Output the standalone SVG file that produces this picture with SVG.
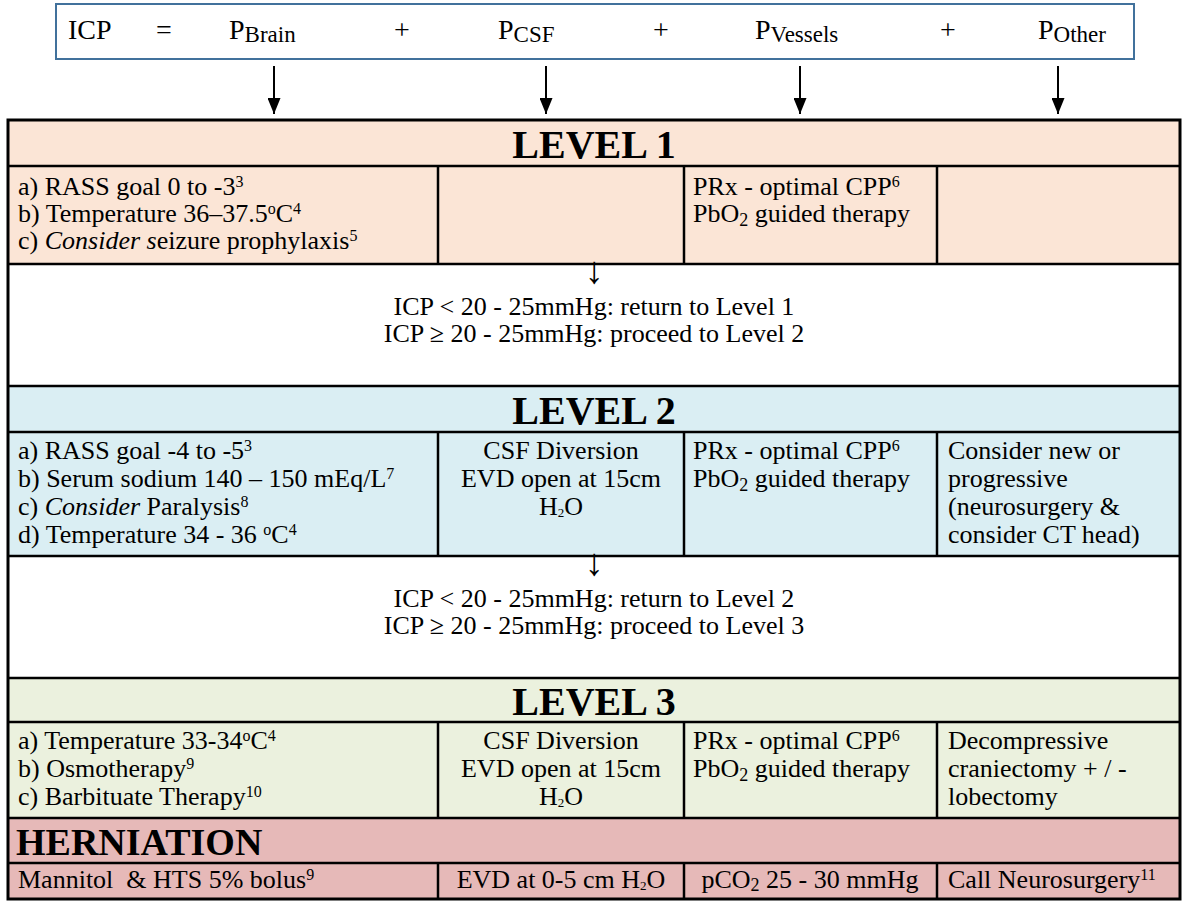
<svg xmlns="http://www.w3.org/2000/svg" width="1184" height="901" viewBox="0 0 1184 901">
<style>
.t{font-family:"Liberation Serif","Times New Roman",serif;font-size:26px;fill:#000}
.c{text-anchor:middle}
.hd{font-weight:bold;font-size:40px}
.hn{font-weight:bold;font-size:38px}
.eq{font-size:28px}
.es{font-size:23px}
.sp{font-size:16px}
.sb{font-size:18px}
.tiny{font-size:13px}
.ar{font-size:38px}
.ln{stroke:#000;stroke-width:2;fill:none}
.it{font-style:italic}
</style>
<defs>
<marker id="ah" markerWidth="16" markerHeight="13" refX="16" refY="6.5" orient="auto" markerUnits="userSpaceOnUse" viewBox="0 0 16 13">
<path d="M0,0 L16,6.5 L0,13 Z" fill="#000"/>
</marker>
</defs>
<rect width="1184" height="901" fill="#fff"/>

<g id="equation">
<rect x="56" y="4" width="1078" height="55" fill="#fff" stroke="#41719C" stroke-width="2"/>
<text class="t eq" x="68" y="39">ICP</text>
<text class="t eq c" x="164" y="39">=</text>
<text class="t eq" x="229" y="39">P<tspan class="es" dy="3">Brain</tspan></text>
<text class="t eq c" x="402" y="39">+</text>
<text class="t eq" x="498" y="39">P<tspan class="es" dy="3">CSF</tspan></text>
<text class="t eq c" x="661" y="39">+</text>
<text class="t eq" x="755" y="39">P<tspan class="es" dy="3">Vessels</tspan></text>
<text class="t eq c" x="948" y="39">+</text>
<text class="t eq" x="1038" y="39">P<tspan class="es" dy="3">Other</tspan></text>
</g>

<g id="connectors">
<line class="ln" x1="274" y1="66" x2="274" y2="114" marker-end="url(#ah)"/>
<line class="ln" x1="546" y1="66" x2="546" y2="114" marker-end="url(#ah)"/>
<line class="ln" x1="800" y1="66" x2="800" y2="114" marker-end="url(#ah)"/>
<line class="ln" x1="1058" y1="66" x2="1058" y2="114" marker-end="url(#ah)"/>
</g>

<g id="level1">
<rect x="8" y="120" width="1172" height="144" fill="#FBE5D6"/>
<text class="t hd c" x="594" y="158">LEVEL 1</text>
<text class="t" x="18" y="195">a) RASS goal 0 to -3<tspan class="sp" baseline-shift="super">3</tspan></text>
<text class="t" x="18" y="222">b) Temperature 36–37.5<tspan class="sp" baseline-shift="super">o</tspan>C<tspan class="sp" baseline-shift="super">4</tspan></text>
<text class="t" x="18" y="249">c) <tspan class="it">Consider s</tspan>eizure prophylaxis<tspan class="sp" baseline-shift="super">5</tspan></text>
<text class="t" x="693" y="195">PRx - optimal CPP<tspan class="sp" baseline-shift="super">6</tspan></text>
<text class="t" x="693" y="222">PbO<tspan class="sb" dy="4">2</tspan><tspan dy="-4"> guided therapy</tspan></text>
</g>

<g id="decision1">
<text class="t c ar" x="594" y="283">↓</text>
<text class="t c" x="594" y="315">ICP &lt; 20 - 25mmHg: return to Level 1</text>
<text class="t c" x="594" y="342">ICP ≥ 20 - 25mmHg: proceed to Level 2</text>
</g>

<g id="level2">
<rect x="8" y="386" width="1172" height="170" fill="#DAEEF3"/>
<text class="t hd c" x="594" y="424">LEVEL 2</text>
<text class="t" x="18" y="459">a) RASS goal -4 to -5<tspan class="sp" baseline-shift="super">3</tspan></text>
<text class="t" x="18" y="487">b) Serum sodium 140 – 150 mEq/L<tspan class="sp" baseline-shift="super">7</tspan></text>
<text class="t" x="18" y="515">c) <tspan class="it">Consider</tspan> Paralysis<tspan class="sp" baseline-shift="super">8</tspan></text>
<text class="t" x="18" y="543">d) Temperature 34 - 36 <tspan class="sp" baseline-shift="super">o</tspan>C<tspan class="sp" baseline-shift="super">4</tspan></text>
<text class="t c" x="561" y="459">CSF Diversion</text>
<text class="t c" x="561" y="487">EVD open at 15cm</text>
<text class="t c" x="561" y="515">H<tspan class="tiny" dy="2">2</tspan><tspan dy="-2">O</tspan></text>
<text class="t" x="693" y="459">PRx - optimal CPP<tspan class="sp" baseline-shift="super">6</tspan></text>
<text class="t" x="693" y="487">PbO<tspan class="sb" dy="4">2</tspan><tspan dy="-4"> guided therapy</tspan></text>
<text class="t" x="948" y="459">Consider new or</text>
<text class="t" x="948" y="487">progressive</text>
<text class="t" x="948" y="515">(neurosurgery &amp;</text>
<text class="t" x="948" y="543">consider CT head)</text>
</g>

<g id="decision2">
<text class="t c ar" x="594" y="575">↓</text>
<text class="t c" x="594" y="607">ICP &lt; 20 - 25mmHg: return to Level 2</text>
<text class="t c" x="594" y="634">ICP ≥ 20 - 25mmHg: proceed to Level 3</text>
</g>

<g id="level3">
<rect x="8" y="678" width="1172" height="140" fill="#EBF1DE"/>
<text class="t hd c" x="594" y="715">LEVEL 3</text>
<text class="t" x="18" y="749">a) Temperature 33-34<tspan class="sp" baseline-shift="super">o</tspan>C<tspan class="sp" baseline-shift="super">4</tspan></text>
<text class="t" x="18" y="777">b) Osmotherapy<tspan class="sp" baseline-shift="super">9</tspan></text>
<text class="t" x="18" y="805">c) Barbituate Therapy<tspan class="sp" baseline-shift="super">10</tspan></text>
<text class="t c" x="561" y="749">CSF Diversion</text>
<text class="t c" x="561" y="777">EVD open at 15cm</text>
<text class="t c" x="561" y="805">H<tspan class="tiny" dy="2">2</tspan><tspan dy="-2">O</tspan></text>
<text class="t" x="693" y="749">PRx - optimal CPP<tspan class="sp" baseline-shift="super">6</tspan></text>
<text class="t" x="693" y="777">PbO<tspan class="sb" dy="4">2</tspan><tspan dy="-4"> guided therapy</tspan></text>
<text class="t" x="948" y="749">Decompressive</text>
<text class="t" x="948" y="777">craniectomy + / -</text>
<text class="t" x="948" y="805">lobectomy</text>
</g>

<g id="herniation">
<rect x="8" y="818" width="1172" height="81" fill="#E6B9B8"/>
<text class="t hn" x="16" y="855">HERNIATION</text>
<text class="t" x="18" y="888" xml:space="preserve">Mannitol  &amp; HTS 5% bolus<tspan class="sp" baseline-shift="super">9</tspan></text>
<text class="t c" x="561" y="888">EVD at 0-5 cm H<tspan class="tiny" dy="2">2</tspan><tspan dy="-2">O</tspan></text>
<text class="t c" x="810" y="888">pCO<tspan class="sb" dy="3">2</tspan><tspan dy="-3"> 25 - 30 mmHg</tspan></text>
<text class="t" x="948" y="888">Call Neurosurgery<tspan class="sp" baseline-shift="super">11</tspan></text>
</g>

<g id="grid" stroke="#000" stroke-width="2.5" fill="none">
<line x1="8" y1="166" x2="1180" y2="166"/>
<line x1="8" y1="264" x2="1180" y2="264"/>
<line x1="8" y1="386" x2="1180" y2="386"/>
<line x1="8" y1="432" x2="1180" y2="432"/>
<line x1="8" y1="556" x2="1180" y2="556"/>
<line x1="8" y1="678" x2="1180" y2="678"/>
<line x1="8" y1="722" x2="1180" y2="722"/>
<line x1="8" y1="818" x2="1180" y2="818"/>
<line x1="8" y1="863" x2="1180" y2="863"/>
<line x1="438" y1="166" x2="438" y2="264"/>
<line x1="684" y1="166" x2="684" y2="264"/>
<line x1="937" y1="166" x2="937" y2="264"/>
<line x1="438" y1="432" x2="438" y2="556"/>
<line x1="684" y1="432" x2="684" y2="556"/>
<line x1="937" y1="432" x2="937" y2="556"/>
<line x1="438" y1="722" x2="438" y2="818"/>
<line x1="684" y1="722" x2="684" y2="818"/>
<line x1="937" y1="722" x2="937" y2="818"/>
<line x1="438" y1="863" x2="438" y2="899"/>
<line x1="684" y1="863" x2="684" y2="899"/>
<line x1="937" y1="863" x2="937" y2="899"/>
<rect x="8" y="120" width="1172" height="779" stroke-width="3"/>
</g>
</svg>
